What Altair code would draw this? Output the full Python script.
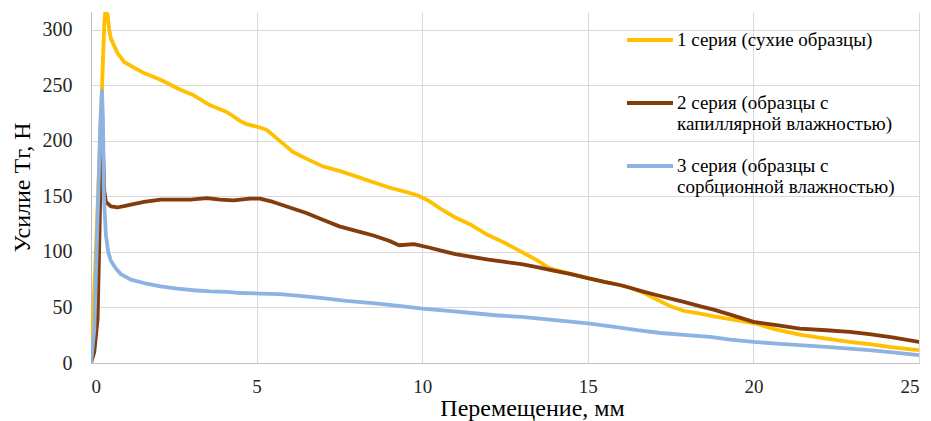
import altair as alt
import pandas as pd

# Series 1 (dry samples)
x1 = [0, 0.12, 0.25, 0.33, 0.40, 0.43, 0.50, 0.55, 0.6, 0.8, 1.0, 1.3, 1.6, 2.1, 2.7, 3.1, 3.6, 4.1, 4.5,
      4.7, 5.1, 5.3, 5.7, 6.1, 6.5, 7.0, 7.5, 8.0, 8.5, 9.0, 9.5, 9.85, 10.2, 10.6, 11.0, 11.5, 12.0,
      12.5, 13.0, 13.5, 13.8, 14.0, 14.5, 15.0, 15.5, 16.0, 16.3, 16.7, 17.1, 17.5, 17.9, 18.4, 18.8,
      19.3, 20.0, 20.7, 21.4, 22.2, 22.9, 23.5, 24.2, 25.0]
y1 = [5, 80, 180, 245, 305, 316, 314, 300, 292, 279, 271, 266, 261, 255, 246, 241, 232, 226, 218,
      215, 212, 210, 200, 190, 184, 177, 173, 168, 163, 158, 154, 151, 146, 138, 131, 124, 115,
      108, 100, 92, 86, 84, 80, 76.5, 73, 70, 67.5, 63, 57, 51, 47, 44.5, 42,
      39.5, 36, 30, 25.5, 22, 19, 17, 14, 11.5]

# Series 2 (capillary moisture)
x2 = [0, 0.1, 0.2, 0.28, 0.33, 0.36, 0.4, 0.45, 0.6, 0.8, 1.1, 1.6, 2.1, 2.6, 3.0, 3.5, 3.9, 4.3, 4.8,
      5.1, 5.5, 6.0, 6.5, 7.0, 7.5, 8.0, 8.5, 9.0, 9.3, 9.75, 10.2, 10.6, 11.0, 11.5, 12.0, 12.5,
      13.0, 13.5, 14.0, 14.5, 15.0, 15.5, 16.0, 16.3, 16.7, 17.1, 17.5, 17.9, 18.4, 18.8, 19.3,
      20.0, 20.7, 21.4, 22.2, 22.9, 23.5, 24.2, 25.0]
y2 = [0, 10, 40, 150, 203, 195, 155, 145, 141, 140, 142, 145, 147, 147, 147, 148.5, 147, 146.5, 148,
      148, 145, 140, 135, 129, 123, 119, 115, 110, 106, 107, 104, 101, 98, 95.5, 93, 91,
      89, 86, 83, 80, 76.5, 73, 70, 67.5, 64, 61, 58, 55, 51, 48, 43.5,
      37, 34, 31, 29.5, 28, 26, 23, 19]

# Series 3 (sorption moisture)
x3 = [0, 0.1, 0.2, 0.28, 0.33, 0.36, 0.39, 0.45, 0.52, 0.6, 0.75, 0.9, 1.2, 1.6, 2.1, 2.6, 3.1, 3.6,
      4.1, 4.5, 5.1, 5.7, 6.3, 7.0, 7.7, 8.5, 9.3, 10.0, 10.8, 11.5, 12.2, 13.0, 13.7, 14.4, 15.0,
      15.8, 16.5, 17.2, 18.0, 18.7, 19.3, 20.0, 20.7, 21.4, 22.2, 22.9, 23.5, 24.2, 25.0]
y3 = [0, 30, 130, 215, 245, 220, 150, 115, 100, 92, 85, 80, 75, 72, 69, 67, 65.5, 64.5,
      64, 63, 62.5, 62, 60.5, 58.5, 56, 54, 51.5, 49, 47, 45, 43, 41.5, 39.5, 37.5, 35.6,
      32.5, 29.5, 27, 25, 23.5, 21, 19, 17.5, 16, 14.5, 13, 11.5, 9.5, 7]

series_names = [
    "1 серия (сухие образцы)| ",
    "2 серия (образцы с|капиллярной влажностью)",
    "3 серия (образцы с|сорбционной влажностью)",
]
colors = ["#FFC000", "#843C0C", "#8DB3E2"]

x_ticks = [0, 5, 10, 15, 20, 25]
y_ticks = [0, 50, 100, 150, 200, 250, 300]

FONT = "Liberation Serif"

rows = []
for name, xs, ys in zip(series_names, [x1, x2, x3], [y1, y2, y3]):
    for i, (a, b) in enumerate(zip(xs, ys)):
        rows.append({"series": name, "x": a, "y": b, "order": i})
df = pd.DataFrame(rows)

chart = alt.Chart(df).mark_line(strokeWidth=3.8, strokeJoin="round", strokeCap="round", clip=True).encode(
    x=alt.X("x:Q", scale=alt.Scale(domain=[0, 25], nice=False, zero=False),
            axis=alt.Axis(values=x_ticks, title="Перемещение, мм", labelPadding=14,
                          labelFont=FONT, labelFontSize=19, titleFont=FONT,
                          titleX=441, titleY=52, titleBaseline="alphabetic", titleAlign="center")),
    y=alt.Y("y:Q", scale=alt.Scale(domain=[0, 316], nice=False),
            axis=alt.Axis(values=y_ticks, title="Усилие Тг, Н", labelPadding=19,
                          labelFont=FONT, labelFontSize=20, titleFont=FONT,
                          titleX=-69, titleY=175, titleBaseline="middle", titleAlign="center",
                          titleAngle=-90)),
    color=alt.Color("series:N", scale=alt.Scale(domain=series_names, range=colors),
                    legend=alt.Legend(title=None, orient="none", legendX=534, legendY=3,
                                      symbolType="stroke", symbolSize=2116, symbolStrokeWidth=4,
                                      labelExpr="split(datum.label, '|')",
                                      labelFont=FONT, labelFontSize=19,
                                      labelColor="black", labelLimit=400, labelOffset=2,
                                      rowPadding=7, labelBaseline="middle")),
    order="order:Q",
).properties(
    width=828, height=351,
    autosize=alt.AutoSizeParams(type="none"),
    padding={"left": 83, "top": 4, "right": 4, "bottom": 60},
).configure_axis(
    labelFont=FONT, labelColor="#262626",
    titleFont=FONT, titleFontSize=24, titleFontWeight="normal", titleColor="black",
    gridColor="#d9d9d9", domainColor="#bfbfbf", ticks=False,
).configure_view(stroke=None)

chart.save("out.html", embed_options={"renderer": "svg", "actions": False})
